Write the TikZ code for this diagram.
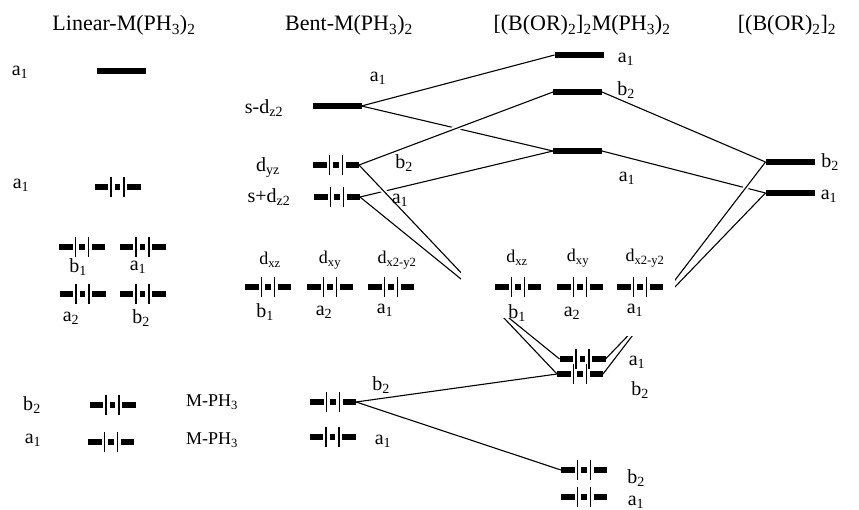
\documentclass[tikz,border=0pt]{standalone}
\usepackage{fontspec}
\setmainfont{Liberation Serif}
\usetikzlibrary{calc}
\newcommand{\occglyph}[1]{%
  \begin{scope}[shift={(#1.center)}]
    \fill (-23,-2.8) rectangle (-9.5,2.8);
    \fill (-2.6,-2.6) rectangle (2.6,2.6);
    \fill (9.5,-2.8) rectangle (23,2.8);
    \draw[eline] (-6.5,-10) -- (-6.5,10);
    \draw[eline] (6.5,-10) -- (6.5,10);
  \end{scope}}
\begin{document}
\begin{tikzpicture}[x=1pt,y=-1pt,
  lvl/.style={minimum width=46pt, minimum height=5.6pt, inner sep=0pt, outer sep=0pt},
  lvlw/.style={minimum width=49pt, minimum height=5.8pt, inner sep=0pt, outer sep=0pt},
  eline/.style={line width=1.2pt},
  conn/.style={line width=1.1pt},
  halo/.style={draw=white, line width=5pt},
  lab/.style={font=\fontsize{20}{24}\selectfont, inner sep=0pt},
  dlab/.style={font=\fontsize{18}{21}\selectfont, inner sep=0pt},
  ttl/.style={font=\fontsize{22}{26}\selectfont, inner sep=0pt, anchor=base}]
\useasboundingbox (0,0) rectangle (859,510);
% ---------- level nodes ----------
% Linear
\node[lvlw] (L1) at (121.5,71) {};
\node[lvl] (L2) at (117.5,187) {};
\node[lvl] (L3) at (82,247) {};
\node[lvl] (L4) at (142.5,247) {};
\node[lvl] (L5) at (82.5,294) {};
\node[lvl] (L6) at (142.5,294) {};
\node[lvl] (L7) at (112.5,405) {};
\node[lvl] (L8) at (111,442) {};
% Bent
\node[lvlw] (Bs) at (337,106) {};
\node[lvl] (Byz) at (336,165) {};
\node[lvl] (Bsp) at (337,197) {};
\node[lvl] (Bxz) at (268,287) {};
\node[lvl] (Bxy) at (330,287) {};
\node[lvl] (Bx2) at (391,287) {};
\node[lvl] (Bb2) at (333,402) {};
\node[lvl] (Ba1) at (332.5,437) {};
% Complex
\node[lvlw] (C1) at (579,55) {};
\node[lvlw] (C2) at (577.5,92) {};
\node[lvlw] (C3) at (577.5,151) {};
\node[lvl] (Cxz) at (518,287) {};
\node[lvl] (Cxy) at (580,287) {};
\node[lvl] (Cx2) at (640,287) {};
\node[lvl] (Cla) at (582.5,359) {};
\node[lvl] (Clb) at (580,374) {};
\node[lvl] (Cbb) at (584,470) {};
\node[lvl] (Cba) at (584,497) {};
% Right
\node[lvlw] (R1) at (790,162) {};
\node[lvlw] (R2) at (790,193) {};
% ---------- connectors ----------
\draw[conn] (Bs.east) -- (C1.west);
\draw[conn] (Bs.east) -- (C3.west);
\path[halo] ($(Byz.east)!0.44!(C2.west)$) -- ($(Byz.east)!0.56!(C2.west)$);
\draw[conn] (Byz.east) -- (C2.west);
\draw[conn] (Bsp.east) -- (C3.west);
\path[halo] ($(Byz.east)!0.08!(Clb.west)$) -- ($(Byz.east)!0.17!(Clb.west)$);
\draw[conn] (Byz.east) -- (Clb.west);
\draw[conn] (Bsp.east) -- (Cla.west);
\draw[conn] (Bb2.east) -- (Clb.west);
\draw[conn] (Bb2.east) -- (Cbb.west);
\draw[conn] (C2.east) -- (R1.west);
\draw[conn] (C3.east) -- (R2.west);
\path[halo] ($(R1.west)!0.08!(Clb.east)$) -- ($(R1.west)!0.17!(Clb.east)$);
\draw[conn] (R1.west) -- (Clb.east);
\draw[conn] (R2.west) -- (Cla.east);
% white gaps behind the d-level groups
\fill[white] (461,240) rectangle (550,318);
\fill[white] (615,240) rectangle (675,336);
% ---------- level glyphs ----------
\foreach \n in {L1,Bs,C1,C2,C3,R1,R2}
  \fill (\n.south west) rectangle (\n.north east);
\foreach \n in {L2,L3,L4,L5,L6,L7,L8,Byz,Bsp,Bxz,Bxy,Bx2,Bb2,Ba1,Cxz,Cxy,Cx2,Cla,Clb,Cbb,Cba}
  \occglyph{\n};
% ---------- titles ----------
\node[ttl] (tL) at (124,31) {Linear-M(PH\textsubscript{3})\textsubscript{2}};
\node[ttl] (tB) at (349,31) {Bent-M(PH\textsubscript{3})\textsubscript{2}};
\node[ttl] (tC) at (582,31) {[(B(OR)\textsubscript{2}]\textsubscript{2}M(PH\textsubscript{3})\textsubscript{2}};
\node[ttl] (tR) at (787,31) {[(B(OR)\textsubscript{2}]\textsubscript{2}};
% ---------- labels: Linear ----------
\node[lab] (la1) at (20,72) {a\textsubscript{1}};
\node[lab] (la1b) at (21,185) {a\textsubscript{1}};
\node[lab] (lb1) at (78,267) {b\textsubscript{1}};
\node[lab] (la1c) at (138,267) {a\textsubscript{1}};
\node[lab] (la2) at (71,318) {a\textsubscript{2}};
\node[lab] (lb2) at (141,318) {b\textsubscript{2}};
\node[lab] (lb2b) at (32,405) {b\textsubscript{2}};
\node[lab] (la1d) at (33,440) {a\textsubscript{1}};
\node[dlab] (mp1) at (212,402) {M-PH\textsubscript{3}};
\node[dlab] (mp2) at (212,440) {M-PH\textsubscript{3}};
% ---------- labels: Bent ----------
\node[lab] (bsd) at (264,108) {s-d\textsubscript{z2}};
\node[lab] (ba1t) at (378,78) {a\textsubscript{1}};
\node[lab] (byz) at (268,168) {d\textsubscript{yz}};
\node[lab] (bb2t) at (404,163) {b\textsubscript{2}};
\node[lab] (bsp) at (269,197) {s+d\textsubscript{z2}};
\node[lab] (ba1m) at (400,200) {a\textsubscript{1}};
\node[dlab] (bxz) at (270,260) {d\textsubscript{xz}};
\node[dlab] (bxy) at (330,260) {d\textsubscript{xy}};
\node[dlab] (bx2) at (397,260) {d\textsubscript{x2-y2}};
\node[lab] (bb1) at (265,312) {b\textsubscript{1}};
\node[lab] (ba2) at (324,312) {a\textsubscript{2}};
\node[lab] (ba1d) at (385,310) {a\textsubscript{1}};
\node[lab] (bb2b) at (381,385) {b\textsubscript{2}};
\node[lab] (ba1b) at (383,441) {a\textsubscript{1}};
% ---------- labels: Complex ----------
\node[lab] (ca1t) at (626,59) {a\textsubscript{1}};
\node[lab] (cb2t) at (626,90) {b\textsubscript{2}};
\node[lab] (ca1m) at (627,178) {a\textsubscript{1}};
\node[dlab] (cxz) at (517,258) {d\textsubscript{xz}};
\node[dlab] (cxy) at (578,258) {d\textsubscript{xy}};
\node[dlab] (cx2) at (645,258) {d\textsubscript{x2-y2}};
\node[lab] (cb1) at (517,313) {b\textsubscript{1}};
\node[lab] (ca2) at (572,313) {a\textsubscript{2}};
\node[lab] (ca1d) at (635,310) {a\textsubscript{1}};
\node[lab] (ca1l) at (637,362) {a\textsubscript{1}};
\node[lab] (cb2l) at (640,390) {b\textsubscript{2}};
\node[lab] (cb2b) at (636,478) {b\textsubscript{2}};
\node[lab] (ca1b) at (636,502) {a\textsubscript{1}};
% ---------- labels: Right ----------
\node[lab] (rb2) at (830,162) {b\textsubscript{2}};
\node[lab] (ra1) at (829,196) {a\textsubscript{1}};
\end{tikzpicture}
\end{document}
